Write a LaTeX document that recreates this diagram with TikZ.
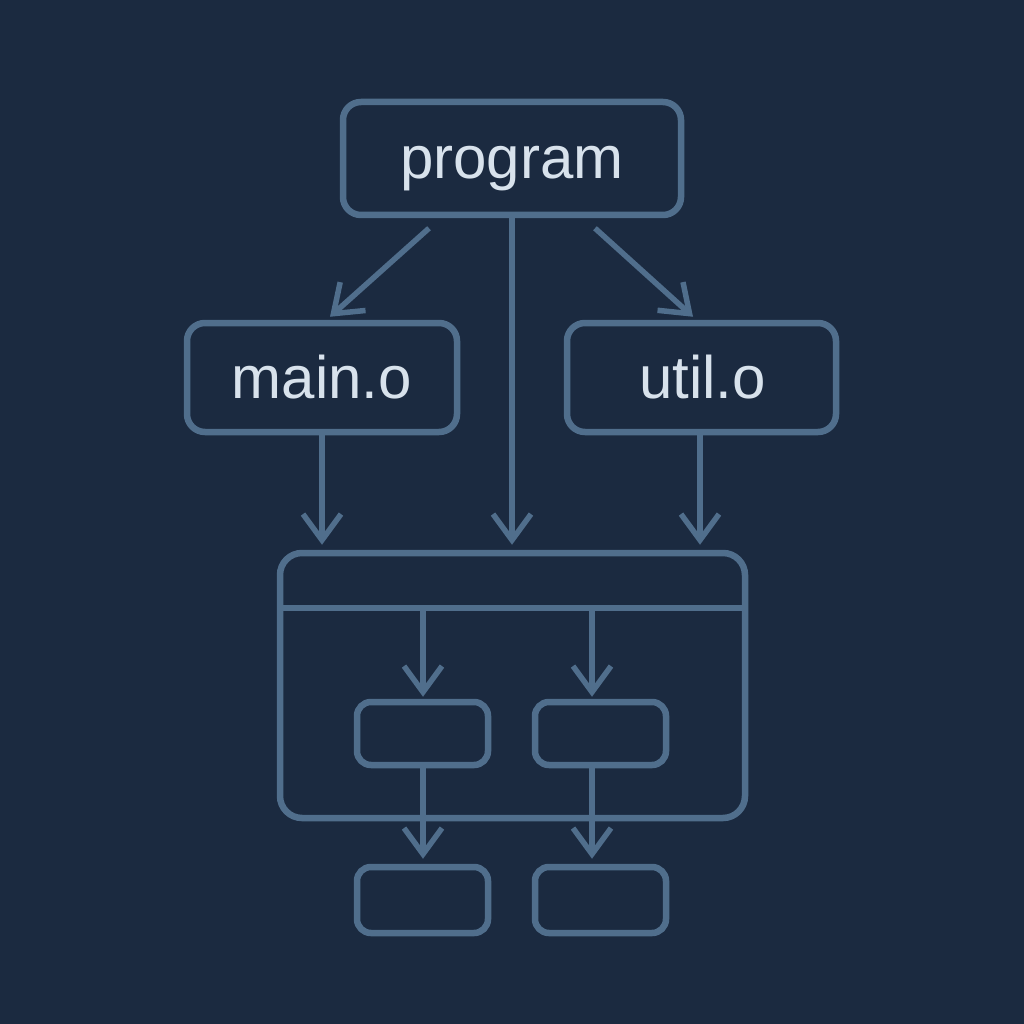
\documentclass[tikz,border=0pt]{standalone}
\usepackage{fontspec}
\setmainfont{Liberation Sans}
\usetikzlibrary{arrows.meta,calc}
\definecolor{bgc}{RGB}{27,42,64}
\definecolor{edge}{RGB}{80,110,140}
\definecolor{txt}{RGB}{216,226,236}
\tikzset{
  box/.style={draw=edge, line width=6.5pt, rounded corners=18pt, inner sep=0pt},
  smallbox/.style={draw=edge, line width=6.5pt, rounded corners=14pt, inner sep=0pt, minimum width=131pt, minimum height=63pt},
  lbl/.style={text=txt, anchor=base, inner sep=0pt, font=\fontsize{60}{70}\selectfont},
  arr/.style={draw=edge, line width=5.5pt, -{Straight Barb[length=26pt, width=38pt, line width=5.5pt]}},
  ln/.style={draw=edge, line width=5.5pt}
}
\begin{document}
\begin{tikzpicture}[x=1pt, y=-1pt]
\fill[bgc] (0,0) rectangle (1024,1024);
\useasboundingbox (0,0) rectangle (1024,1024);
\node[box, minimum width=338pt, minimum height=113pt] (program) at (512,158.5) {};
\node[lbl] (tprogram) at ($(program.center)+(0,20)$) {program};
\node[box, minimum width=270pt, minimum height=109pt] (main) at (322,377.5) {};
\node[lbl] (tmain) at ($(main.center)+(0,21)$) {main.o};
\node[box, minimum width=269pt, minimum height=109pt] (util) at (701.5,377.5) {};
\node[lbl] (tutil) at ($(util.center)+(1,21)$) {util.o};
\node[box, rounded corners=22pt, minimum width=465pt, minimum height=265pt] (big) at (512.5,685.5) {};
\node[smallbox] (s1) at (422.5,733.5) {};
\node[smallbox] (s2) at (600.5,733.5) {};
\node[smallbox, minimum height=66pt] (b1) at (422.5,900) {};
\node[smallbox, minimum height=66pt] (b2) at (600.5,900) {};
% divider
\coordinate (dl) at ($(big.west)+(0,-77.5)$);
\coordinate (dr) at ($(big.east)+(0,-77.5)$);
\draw[ln] (dl) -- (dr);
% program arrows
\draw[arr] ($(program.south)+(-83,10)$) -- ($(main.north)+(8,-3)$);
\draw[arr] ($(program.south)+(83,10)$) -- ($(util.north)+(-8.5,-3)$);
\draw[arr] (program.south) -- ($(big.north)+(-0.5,-5)$);
\draw[arr] (main.south) -- ($(big.north -| main.south)+(0,-5)$);
\draw[arr] ($(util.south)+(-1.5,0)$) -- ($(big.north -| util.south)+(-1.5,-5)$);
% inner arrows
\draw[arr] ($(dl -| s1.north)+(0.5,0)$) -- ($(s1.north)+(0.5,-2)$);
\draw[arr] ($(dl -| s2.north)+(-8.5,0)$) -- ($(s2.north)+(-8.5,-2)$);
\draw[arr] ($(s1.south)+(0.5,0)$) -- ($(b1.north)+(0.5,-5)$);
\draw[arr] ($(s2.south)+(-8.5,0)$) -- ($(b2.north)+(-8.5,-5)$);
\end{tikzpicture}
\end{document}
